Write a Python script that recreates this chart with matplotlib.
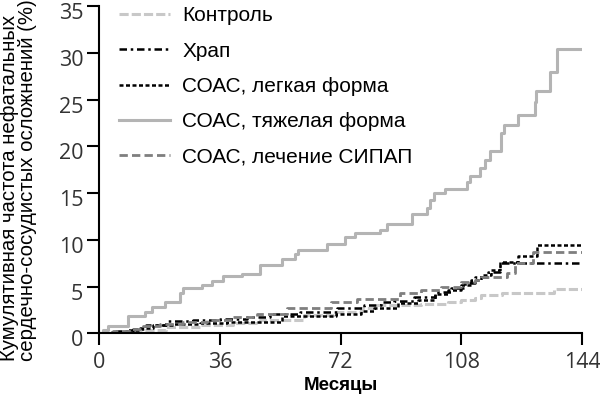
import numpy as np
import matplotlib
matplotlib.use("Agg")
import matplotlib.pyplot as plt
import matplotlib.transforms as mtransforms

# Кумулятивная частота нефатальных ССО (%) по месяцам наблюдения
severe_t = [0, 1, 2.7, 8.7, 13.6, 15.6, 19.6, 24, 25, 30.5, 33.5, 37, 42.5, 48,
            54.4, 58.4, 59.4, 67.9, 73.3, 76.3, 83.8, 85.8, 93.3, 97.7, 98.7,
            99.7, 103, 109.6, 110.5, 113.7, 115.2, 116.6, 119.7, 120.8, 124.9,
            129.9, 130.4, 134.5, 136.5, 144]
severe_v = [0, 0.4, 0.8, 1.85, 2.3, 2.85, 3.4, 4.3, 4.8, 5.2, 5.6, 6.1, 6.4, 7.3,
            8.0, 8.5, 8.9, 9.6, 10.3, 10.7, 11.1, 11.7, 12.8, 13.4, 14.3,
            15.0, 15.5, 16.2, 16.8, 17.7, 18.6, 19.5, 21.4, 22.3, 23.4,
            24.8, 25.9, 28.0, 30.4, 30.4]

control_t = [0, 6, 12, 20, 30, 40, 48, 61, 70, 78, 82, 96, 104, 108, 112, 114,
             120, 135.5, 144]
control_v = [0, 0.1, 0.4, 0.7, 0.9, 1.1, 1.4, 2.0, 2.3, 2.7, 3.0, 3.1, 3.3, 3.6,
             3.8, 4.1, 4.35, 4.7, 4.7]

snore_t = [0, 5, 10, 14, 20, 28, 36, 44, 51, 60, 71, 79, 84, 88, 94, 100, 105,
           109, 112, 116, 119.6, 144]
snore_v = [0, 0.2, 0.5, 0.9, 1.3, 1.4, 1.5, 1.7, 2.1, 2.3, 2.7, 3.0, 3.3, 3.5,
           3.9, 4.4, 4.8, 5.4, 6.0, 6.6, 7.5, 7.5]

mild_t = [0, 3, 8, 12, 16, 22, 30, 38, 46, 54.6, 70.5, 78, 82, 89, 95, 100, 104,
          108, 111, 114, 117, 119.6, 125, 130.6, 144]
mild_v = [0, 0.15, 0.3, 0.6, 0.9, 1.0, 1.1, 1.2, 1.25, 1.8, 2.1, 2.4, 2.7, 3.2,
          3.6, 4.2, 4.6, 5.2, 5.7, 6.2, 6.8, 7.6, 8.3, 9.45, 9.45]

cpap_t = [0, 4, 9, 13, 18, 25, 32, 40, 47, 56, 69, 77, 89.6, 96, 102, 108, 112,
          114, 121.5, 124, 129.5, 144]
cpap_v = [0, 0.2, 0.5, 0.8, 1.0, 1.2, 1.4, 1.7, 2.1, 2.75, 3.3, 3.65, 4.3, 4.6,
          5.0, 5.5, 5.7, 6.0, 6.5, 7.5, 8.75, 8.75]

labels = ["Контроль", "Храп", "СОАС, легкая форма", "СОАС, тяжелая форма",
          "СОАС, лечение СИПАП"]
x_ticks = [0, 36, 72, 108, 144]
y_ticks = [0, 5, 10, 15, 20, 25, 30, 35]

plt.rcParams["font.family"] = ["Liberation Sans", "DejaVu Sans"]

fig = plt.figure(figsize=(6, 3.98), dpi=100)
ax = fig.add_axes([0.1655, 0.1626, 0.8045, 0.8214])

ax.step(control_t, control_v, where="post", color="#c8c8c8", lw=2.2,
        dashes=(3, 1), label=labels[0])
ax.step(snore_t, snore_v, where="post", color="black", lw=1.8,
        dashes=(3, 1.5, 1, 1.5), label=labels[1])
ax.step(mild_t, mild_v, where="post", color="black", lw=1.8,
        dashes=(1.6, 1), label=labels[2])
ax.step(severe_t, severe_v, where="post", color="#b4b4b4", lw=2.2,
        label=labels[3])
ax.step(cpap_t, cpap_v, where="post", color="#7f7f7f", lw=2.0,
        dashes=(3, 1.5), label=labels[4])

ax.set_xlim(0, 144)
ax.set_ylim(0, 35)
ax.set_xticks(x_ticks)
ax.set_yticks(y_ticks)
for s in ("top", "right"):
    ax.spines[s].set_visible(False)
for s in ("left", "bottom"):
    ax.spines[s].set_linewidth(1.5)
ax.tick_params(length=8.5, width=1.5, direction="out")
ax.tick_params(axis="x", pad=5)
ax.tick_params(axis="y", pad=3)
for lab in ax.get_xticklabels() + ax.get_yticklabels():
    lab.set_fontfamily("Open Sans")
    lab.set_fontsize(15.5)
    lab.set_color("#333333")

# подписи оси Y в оригинале чуть ниже делений
shift = mtransforms.ScaledTranslation(0, -5 / 100, fig.dpi_scale_trans)
for lab in ax.get_yticklabels():
    lab.set_transform(lab.get_transform() + shift)

ax.set_xlabel("Месяцы", fontsize=13.5, fontweight="bold", labelpad=3)
fig.text(0.0, 0.548, "Кумулятивная частота нефатальных\nсердечно-сосудистых осложнений (%)",
         rotation=90, ha="left", va="center", fontsize=14.7, linespacing=0.95)

ax.legend(loc="upper left", bbox_to_anchor=(0.04, 1.0), frameon=False,
          fontsize=15, handlelength=2.45, handletextpad=0.6,
          labelspacing=0.78, borderaxespad=0, borderpad=0)

plt.savefig("out.png", dpi=100)
plt.close()
